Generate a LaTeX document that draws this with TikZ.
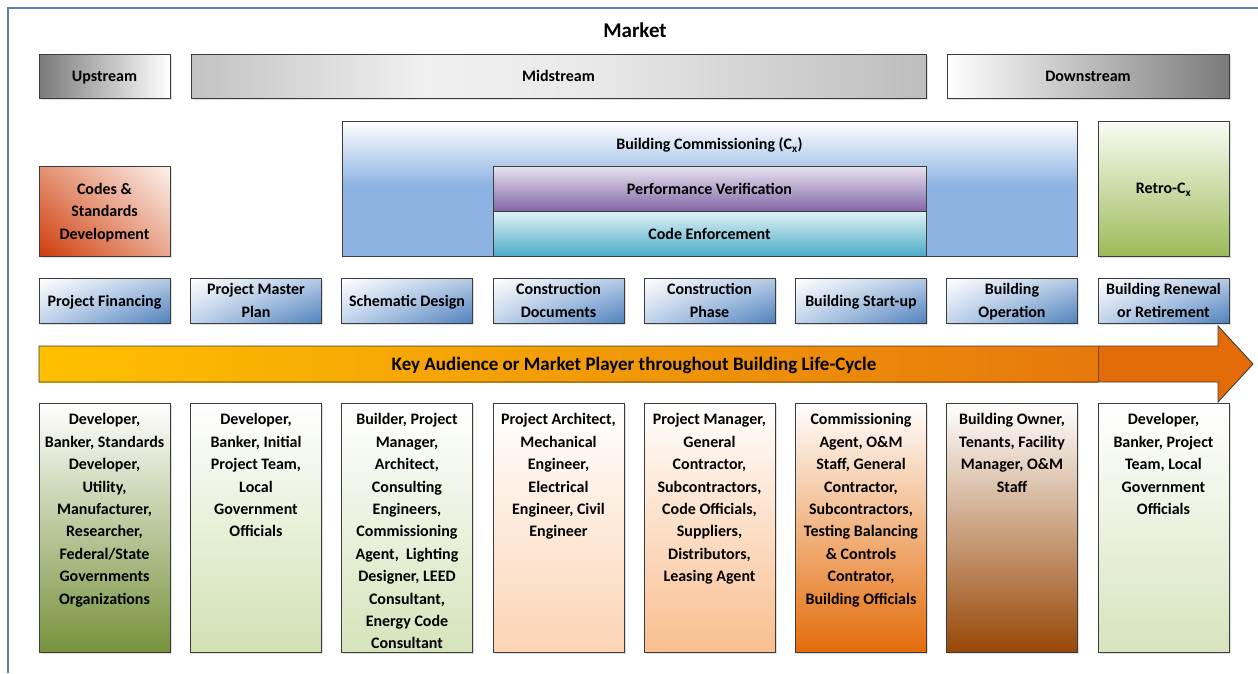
\documentclass[tikz,border=0pt]{standalone}
\usepackage{fontspec}
\setmainfont{Carlito}
\usetikzlibrary{positioning, shadings, shadows}

\definecolor{framebl}{HTML}{5E7FAD}
\definecolor{boxline}{HTML}{3C3C3C}
\definecolor{streamdark}{HTML}{7A7A7A}
\definecolor{midgray}{HTML}{C2C2C2}
\definecolor{midlight}{HTML}{F0F0F0}
\definecolor{midend}{HTML}{BDBDBD}
\definecolor{cxblue}{HTML}{8DB3E2}
\definecolor{pvtop}{HTML}{E9E4EF}
\definecolor{pvbot}{HTML}{8266A6}
\definecolor{cetop}{HTML}{E2F2F6}
\definecolor{cebot}{HTML}{4BACC6}
\definecolor{codesUL}{HTML}{E49273}
\definecolor{codesUR}{HTML}{FCF1EC}
\definecolor{codesLL}{HTML}{CF3B0A}
\definecolor{codesLR}{HTML}{E9A78F}
\definecolor{retrotop}{HTML}{FAFCF4}
\definecolor{retrobot}{HTML}{9BBB59}
\definecolor{stageUR}{HTML}{B4CAE6}
\definecolor{stageLL}{HTML}{C2D4EC}
\definecolor{stageBR}{HTML}{4F81BD}
\definecolor{arrowyel}{HTML}{FFC000}
\definecolor{arrowmid}{HTML}{E6780C}
\definecolor{arrowdark}{HTML}{E36C09}
\definecolor{whoA}{HTML}{76923C}
\definecolor{whoB}{HTML}{D0E1B3}
\definecolor{whoC}{HTML}{D5E4BB}
\definecolor{whoD}{HTML}{FBD4B4}
\definecolor{whoE}{HTML}{F9BE8E}
\definecolor{whoF}{HTML}{E46C0A}
\definecolor{whoG}{HTML}{984807}
\definecolor{whoH}{HTML}{D7E4BD}

\pgfdeclareverticalshading{cxshade}{100bp}{color(0bp)=(cxblue); color(51bp)=(cxblue); color(75bp)=(white); color(100bp)=(white)}
\pgfdeclarehorizontalshading{midshade}{100bp}{color(0bp)=(midgray); color(25bp)=(midgray); color(41bp)=(midlight); color(52bp)=(midlight!85!midgray); color(75bp)=(midend); color(100bp)=(midend)}

\newcommand{\cellfont}{\bfseries\fontsize{16}{22.4}\selectfont}

\tikzset{
  cellbox/.style={draw=boxline, line width=0.9pt, inner sep=0pt, minimum width=131pt,
    font=\cellfont, align=center, text depth=0pt},
  shadowed/.style={drop shadow={shadow xshift=1.5pt, shadow yshift=-1.5pt, opacity=0.25}},
  streambox/.style={cellbox, shadowed, minimum height=44pt},
  stagebox/.style={cellbox, shadowed, minimum height=45pt, upper left=white,
    upper right=stageUR, lower left=stageLL, lower right=stageBR},
  whobox/.style={cellbox, shadowed, minimum height=249pt, top color=white, bottom color=#1},
  whotext/.style={font=\cellfont, align=center, inner sep=0pt, anchor=north},
}

\begin{document}
\begin{tikzpicture}[x=1pt, y=-1pt]

\useasboundingbox (0,0) rectangle (1258,673);
\draw[framebl, line width=1.5pt] (8,673) -- (8,8) -- (1258,8);

\node[font=\bfseries\fontsize{21}{25}\selectfont] (market) at (635,30) {Market};

% ---------- STREAMS ----------

\node[streambox, left color=streamdark, right color=white] (up) at (104.5,76) {Upstream};
\node[streambox, minimum width=735pt, shading=midshade] (mid) at (558.5,76) {Midstream};
\node[streambox, minimum width=282pt, left color=white, right color=streamdark] (down) at (1088,76) {Downstream};

% ---------- PROGRAMS ----------

\node[cellbox, shadowed, minimum height=90pt, upper left=codesUL, upper right=codesUR,
  lower left=codesLL, lower right=codesLR] (codes) at (104.5,211) {Codes \&\\Standards\\Development};

\node[cellbox, minimum width=735pt, minimum height=135pt, shading=cxshade] (cx) at (709.5,188.5) {};
\node[font=\cellfont, text depth=0pt] (cxlabel) at (709.5,143.5) {Building Commissioning (C\textsubscript{x})};
\node[cellbox, minimum width=433pt, minimum height=45pt, top color=pvtop, bottom color=pvbot] (pv) at (709.5,188.5) {Performance Verification};
\node[cellbox, minimum width=433pt, minimum height=45pt, top color=cetop, bottom color=cebot] (ce) at (709.5,233.5) {Code Enforcement};

\node[cellbox, shadowed, minimum height=135pt, top color=retrotop, bottom color=retrobot] (retro) at (1163.5,188.5) {Retro-C\textsubscript{x}};

% ---------- STAGES ----------

\node[stagebox] (finance) at (104.5,300.5) {Project Financing};
\node[stagebox] (plan) at (256,300.5) {Project Master\\Plan};
\node[stagebox] (schem) at (407,300.5) {Schematic Design};
\node[stagebox] (cdocs) at (558.5,300.5) {Construction\\Documents};
\node[stagebox] (cphase) at (709.5,300.5) {Construction\\Phase};
\node[stagebox] (startup) at (861,300.5) {Building Start-up};
\node[stagebox] (oper) at (1012,300.5) {Building\\Operation};
\node[stagebox] (renew) at (1163.5,300.5) {Building Renewal\\or Retirement};

% ---------- ARROW ----------

\fill[arrowdark] (1098,346) -- (1218,346) -- (1218,326) -- (1253,364) -- (1218,402) -- (1218,382) -- (1098,382) -- cycle;
\shade[left color=arrowyel, right color=arrowmid] (39,346) rectangle (1098,382);
\draw[boxline, line width=0.9pt] (39,346) -- (1218,346) -- (1218,326) -- (1253,364) -- (1218,402) -- (1218,382) -- (39,382) -- cycle;
\draw[boxline!70!arrowdark, line width=0.6pt] (1098,346) -- (1098,382);
\node[font=\bfseries\fontsize{19}{23}\selectfont, text depth=0pt] (lifecycle) at (634,364) {Key Audience or Market Player throughout Building Life-Cycle};

% ---------- AUDIENCE ----------

\node[whobox=whoA] (financeWho) at (104.5,527.5) {};
\node[whobox=whoB] (planWho) at (256,527.5) {};
\node[whobox=whoC] (schemWho) at (407,527.5) {};
\node[whobox=whoD] (cdocsWho) at (558.5,527.5) {};
\node[whobox=whoE] (cphaseWho) at (709.5,527.5) {};
\node[whobox=whoF] (startupWho) at (861,527.5) {};
\node[whobox=whoG] (operWho) at (1012,527.5) {};
\node[whobox=whoH] (renewWho) at (1163.5,527.5) {};

\node[whotext] at ([yshift=-11pt]financeWho.north) {Developer,\\Banker, Standards\\Developer,\\Utility,\\Manufacturer,\\Researcher,\\Federal/State\\Governments\\Organizations};
\node[whotext] at ([yshift=-11pt]planWho.north) {Developer,\\Banker, Initial\\Project Team,\\Local\\Government\\Officials};
\node[whotext] at ([yshift=-11pt]schemWho.north) {Builder, Project\\Manager,\\Architect,\\Consulting\\Engineers,\\Commissioning\\Agent,~ Lighting\\Designer, LEED\\Consultant,\\Energy Code\\Consultant};
\node[whotext] at ([yshift=-11pt]cdocsWho.north) {Project Architect,\\Mechanical\\Engineer,\\Electrical\\Engineer, Civil\\Engineer};
\node[whotext] at ([yshift=-11pt]cphaseWho.north) {Project Manager,\\General\\Contractor,\\Subcontractors,\\Code Officials,\\Suppliers,\\Distributors,\\Leasing Agent};
\node[whotext] at ([yshift=-11pt]startupWho.north) {Commissioning\\Agent, O\&M\\Staff, General\\Contractor,\\Subcontractors,\\Testing Balancing\\\& Controls\\Contrator,\\Building Officials};
\node[whotext] at ([yshift=-11pt]operWho.north) {Building Owner,\\Tenants, Facility\\Manager, O\&M\\Staff};
\node[whotext] at ([yshift=-11pt]renewWho.north) {Developer,\\Banker, Project\\Team, Local\\Government\\Officials};

\end{tikzpicture}
\end{document}
